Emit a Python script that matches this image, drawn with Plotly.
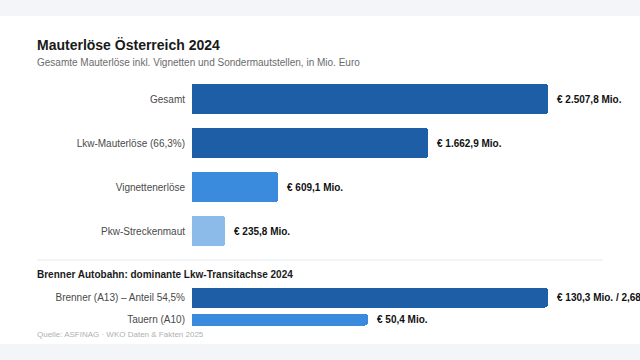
import plotly.graph_objects as go

# ---- data ----
categories = ["Gesamt", "Lkw-Mauterlöse (66,3%)", "Vignettenerlöse", "Pkw-Streckenmaut"]
values = [2507.8, 1662.9, 609.1, 235.8]
value_labels = ["€ 2.507,8 Mio.", "€ 1.662,9 Mio.", "€ 609,1 Mio.", "€ 235,8 Mio."]

brenner_categories = ["Brenner (A13) – Anteil 54,5%", "Tauern (A10)"]
brenner_share = [54.5, 26.9]
brenner_labels = ["€ 130,3 Mio. / 2,68 Mio. Lkw-Fahrten", "€ 50,4 Mio."]

# ---- style ----
DARK = "#1d5ea7"
MID = "#3a8ade"
LIGHT = "#8dbbe9"
top_colors = [DARK, DARK, MID, LIGHT]
bottom_colors = [DARK, MID]
FONT = "Liberation Sans, Arial, sans-serif"

W, H = 640, 360
X0 = 192          # bar start in px
SPAN = 356        # px length of the max bar
x1_max = max(values) * (W - X0) / SPAN
x2_max = max(brenner_share) * (W - X0) / SPAN
TX = 35 / W       # left edge of texts

def py(px):
    return 1 - px / H

fig = go.Figure()

fig.add_trace(go.Bar(
    x=values, y=categories, orientation="h",
    marker=dict(color=top_colors, cornerradius=3, line=dict(width=0)),
    width=0.66, xaxis="x", yaxis="y", hoverinfo="skip", showlegend=False,
))
fig.add_trace(go.Bar(
    x=brenner_share, y=brenner_categories, orientation="h",
    marker=dict(color=bottom_colors, cornerradius=3, line=dict(width=0)),
    width=[0.89, 0.59], xaxis="x2", yaxis="y2", hoverinfo="skip", showlegend=False,
))

annotations = []
for v, t, c in zip(values, value_labels, categories):
    annotations.append(dict(x=v, y=c, xref="x", yref="y", text="<b>%s</b>" % t,
                            showarrow=False, xanchor="left", xshift=7,
                            font=dict(family=FONT, size=10, color="#111111")))
for v, t, c in zip(brenner_share, brenner_labels, brenner_categories):
    annotations.append(dict(x=v, y=c, xref="x2", yref="y2", text="<b>%s</b>" % t,
                            showarrow=False, xanchor="left", xshift=7,
                            font=dict(family=FONT, size=10, color="#111111")))

# titles / texts
annotations += [
    dict(x=TX, y=py(45), xref="paper", yref="paper", xanchor="left", yanchor="middle",
         text="<b>Mauterlöse Österreich 2024</b>", showarrow=False,
         font=dict(family=FONT, size=14, color="#1a1a1a")),
    dict(x=TX, y=py(62), xref="paper", yref="paper", xanchor="left", yanchor="middle",
         text="Gesamte Mauterlöse inkl. Vignetten und Sondermautstellen, in Mio. Euro",
         showarrow=False, font=dict(family=FONT, size=10, color="#6b6b6b")),
    dict(x=TX, y=py(274), xref="paper", yref="paper", xanchor="left", yanchor="middle",
         text="<b>Brenner Autobahn: dominante Lkw-Transitachse 2024</b>", showarrow=False,
         font=dict(family=FONT, size=10, color="#1a1a1a")),
    dict(x=TX, y=py(334), xref="paper", yref="paper", xanchor="left", yanchor="middle",
         text="Quelle: ASFINAG · WKO Daten &amp; Fakten 2025", showarrow=False,
         font=dict(family=FONT, size=8, color="#b0b0b0")),
]

shapes = [
    dict(type="rect", xref="paper", yref="paper", x0=0, x1=1, y0=py(16), y1=1,
         fillcolor="#f3f5f8", line=dict(width=0), layer="below"),
    dict(type="rect", xref="paper", yref="paper", x0=0, x1=1, y0=0, y1=py(344),
         fillcolor="#f3f5f8", line=dict(width=0), layer="below"),
    dict(type="line", xref="paper", yref="paper", x0=37 / W, x1=603 / W, y0=py(260), y1=py(260),
         line=dict(color="#e6e8eb", width=1)),
]

axis_common = dict(showgrid=False, zeroline=False, showline=False, ticks="")

fig.update_layout(
    width=W, height=H, autosize=False,
    margin=dict(l=0, r=0, t=0, b=0),
    paper_bgcolor="#ffffff", plot_bgcolor="rgba(0,0,0,0)",
    font=dict(family=FONT),
    xaxis=dict(domain=[X0 / W, 1], range=[0, x1_max], showticklabels=False, fixedrange=True, **axis_common),
    yaxis=dict(domain=[py(253), py(77)], range=[3.5, -0.5], anchor="x",
               tickfont=dict(family=FONT, size=10, color="#4a4a4a"),
               ticklabelstandoff=6, **axis_common),
    xaxis2=dict(domain=[X0 / W, 1], range=[0, x2_max], showticklabels=False, anchor="y2", **axis_common),
    yaxis2=dict(domain=[py(330.5), py(286.5)], range=[1.5, -0.5], anchor="x2",
                tickfont=dict(family=FONT, size=10, color="#4a4a4a"),
                ticklabelstandoff=6, **axis_common),
    annotations=annotations,
    shapes=shapes,
    bargap=0,
)

fig.write_html(
    "out.html",
    config={"displayModeBar": False},
    post_script="document.body.style.margin='0';document.body.style.overflow='hidden';",
)
